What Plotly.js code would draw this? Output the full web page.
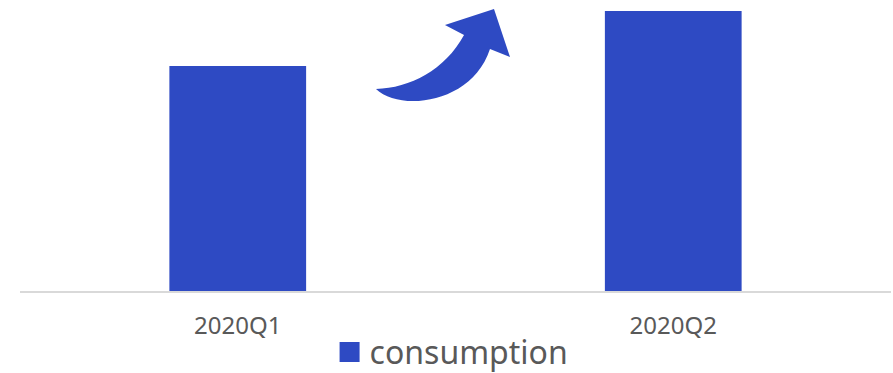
<!DOCTYPE html>
<html>
<head>
<meta charset="utf-8">
<script src="https://cdn.plot.ly/plotly-3.0.1.min.js"></script>
<style>html,body{margin:0;padding:0;background:#fff;}#chart{width:893px;height:373px;}</style>
</head>
<body>
<div id="chart"></div>
<script>
const categories = ["2020Q1", "2020Q2"];
const consumption = [225, 280];
const seriesName = "consumption";

const W = 893, H = 373;
const M = {l: 20, r: 2, t: 0, b: 82, autoexpand: false};
const pw = W - M.l - M.r, ph = H - M.t - M.b;
function P(px, py) { return ((px - M.l) / pw).toFixed(4) + "," + ((H - M.b - py) / ph).toFixed(4); }

const arrowPath = "M" + P(376, 89) +
  " C" + P(400, 112) + " " + P(472, 104) + " " + P(490, 49) +
  " L" + P(510, 57) + " L" + P(494, 9) + " L" + P(445, 25) + " L" + P(464, 35) +
  " C" + P(445, 70) + " " + P(410, 88) + " " + P(376, 89) + " Z";

const trace = {
  type: "bar",
  x: categories,
  y: consumption,
  name: seriesName,
  marker: {color: "#2E4AC3"},
  showlegend: true,
  hoverinfo: "skip"
};

const layout = {
  width: W, height: H,
  margin: M,
  paper_bgcolor: "#fff",
  plot_bgcolor: "#fff",
  font: {family: "Noto Sans, sans-serif", color: "#595959"},
  bargap: 0.686,
  showlegend: true,
  legend: {orientation: "h", x: 0.4955, xanchor: "center", y: -0.21, yanchor: "middle",
           font: {size: 32, color: "#595959"}, itemwidth: 30},
  xaxis: {showgrid: false, showline: true, linecolor: "#d9d9d9", linewidth: 2,
          ticks: "", ticklabelstandoff: 12, tickfont: {size: 24, color: "#595959"}, fixedrange: true},
  yaxis: {range: [0, 291], visible: false, showgrid: false, zeroline: false, fixedrange: true},
  shapes: [{type: "path", xref: "paper", yref: "paper", path: arrowPath,
            fillcolor: "#2E4AC3", line: {width: 0}}]
};

Plotly.newPlot("chart", [trace], layout, {displayModeBar: false, staticPlot: true}).then(function () {
  document.querySelectorAll(".legendpoints path").forEach(function (p) {
    p.setAttribute("d", "M10,10H-10V-10H10Z");
  });
});
</script>
</body>
</html>
